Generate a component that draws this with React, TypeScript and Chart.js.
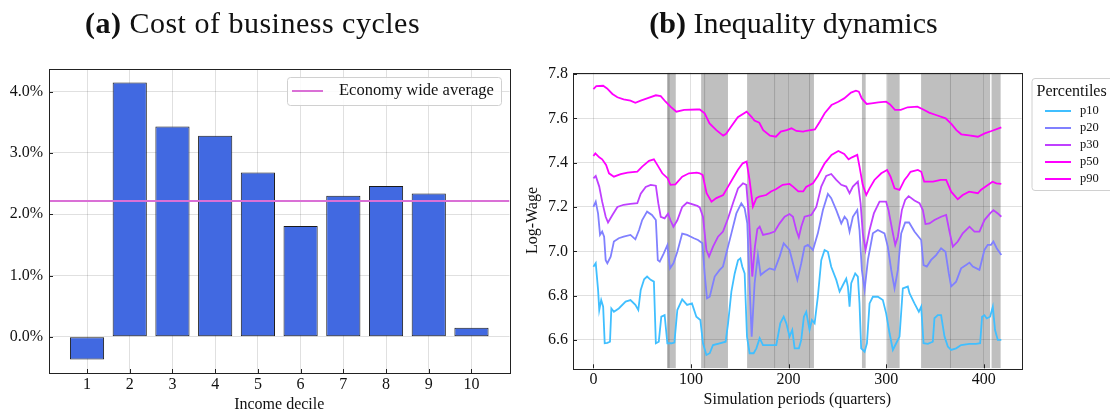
import React, { useEffect, useRef } from 'react';
import { Chart, registerables } from 'chart.js';

Chart.register(...registerables);

// ---------- Panel (a): cost of business cycles ----------
const DECILES = [1, 2, 3, 4, 5, 6, 7, 8, 9, 10];
const COST = [-0.37, 4.15, 3.43, 3.28, 2.68, 1.81, 2.30, 2.46, 2.34, 0.15];
const ECONOMY_AVERAGE = 2.215;
const COST_TICKS = [0, 1, 2, 3, 4];
const DECILE_RANGE = [0.11, 10.89];
const COST_RANGE = [-0.59, 4.37];

// ---------- Panel (b): inequality dynamics ----------
const QUARTER_TICKS = [0, 100, 200, 300, 400];
const WAGE_TICKS = [6.6, 6.8, 7.0, 7.2, 7.4, 7.6, 7.8];
const QUARTER_RANGE = [-20.9, 438.9];
const WAGE_RANGE = [6.472, 7.806];
const RECESSIONS: [number, number][] = [
  [75.8, 84.4], [75.8, 78.2],
  [110.4, 114.5], [113.5, 137.9],
  [157.5, 186.2], [185.2, 222], [221, 226],
  [275.2, 279],
  [301, 313.8],
  [335.8, 366.4], [365.4, 406.5], [408, 417.3],
];

const P90: [number, number][] = [
  [0, 7.732], [3, 7.745], [10, 7.747], [14, 7.735], [19.5, 7.71], [24.6, 7.695], [31, 7.686], [38, 7.68],
  [43, 7.67], [48.5, 7.68], [55, 7.69], [64, 7.704], [69, 7.7], [74, 7.675], [79, 7.653], [85, 7.63],
  [93, 7.638], [106, 7.64], [109, 7.64], [114, 7.623], [119, 7.577], [126, 7.547], [133, 7.522], [136, 7.53],
  [141, 7.562], [148, 7.605], [157, 7.63], [162, 7.607], [165, 7.59], [170, 7.58], [174, 7.547], [181, 7.522],
  [187, 7.517], [192, 7.54], [198, 7.547], [203, 7.555], [208, 7.543], [215, 7.54], [218, 7.544], [227, 7.55],
  [232, 7.585], [237, 7.623], [244, 7.66], [251, 7.675], [257, 7.69], [264, 7.716], [269, 7.725], [272, 7.72],
  [275, 7.69], [280, 7.665], [285, 7.668], [292, 7.672], [300, 7.675], [304, 7.663], [309, 7.638], [315, 7.638],
  [322, 7.65], [332, 7.653], [338, 7.64], [344, 7.626], [351, 7.615], [361, 7.6], [367, 7.574], [372, 7.547],
  [377, 7.528], [385, 7.523], [394, 7.517], [401, 7.532], [408, 7.543], [418, 7.559],
];

const P50: [number, number][] = [
  [0, 7.43], [2, 7.442], [6, 7.424], [9, 7.415], [13, 7.39], [16, 7.352], [21, 7.337], [28, 7.348],
  [35, 7.355], [45, 7.36], [50, 7.382], [57, 7.408], [62, 7.415], [65.5, 7.39], [70.6, 7.352], [76, 7.33],
  [79, 7.3], [84, 7.302], [91, 7.337], [98, 7.352], [106, 7.355], [109, 7.352], [112, 7.344], [116, 7.262],
  [121, 7.224], [126, 7.24], [133, 7.254], [138, 7.292], [143, 7.33], [148, 7.367], [153, 7.397], [157, 7.405],
  [160, 7.322], [163.5, 7.202], [167, 7.24], [170, 7.247], [177, 7.254], [182, 7.27], [187, 7.28], [194, 7.3],
  [201, 7.304], [204.5, 7.292], [210, 7.27], [215, 7.27], [218, 7.29], [225, 7.307], [230, 7.34], [237, 7.397],
  [244, 7.435], [251, 7.453], [257, 7.439], [261.5, 7.415], [265, 7.424], [270.4, 7.435], [272.7, 7.382], [276, 7.3],
  [279.6, 7.254], [283, 7.284], [288, 7.322], [295, 7.352], [301, 7.367], [304.5, 7.337], [308.6, 7.284], [313.7, 7.277],
  [318.8, 7.322], [322, 7.34], [325, 7.359], [332.5, 7.367], [336, 7.359], [339, 7.314], [348, 7.314], [356, 7.322],
  [361.5, 7.322], [366.6, 7.269], [373.4, 7.235], [378.5, 7.254], [385, 7.269], [394, 7.262], [397, 7.277], [402, 7.292],
  [409, 7.314], [413, 7.307], [418, 7.304],
];

const P30: [number, number][] = [
  [0, 7.329], [2.4, 7.34], [6, 7.292], [9, 7.224], [12.6, 7.156], [15, 7.13], [19.5, 7.164], [24.6, 7.2],
  [31, 7.21], [38, 7.214], [45, 7.217], [48.5, 7.26], [53.6, 7.29], [58.7, 7.3], [64, 7.296], [66.5, 7.217],
  [69, 7.156], [73, 7.149], [76.5, 7.17], [79, 7.14], [82, 7.111], [86, 7.14], [91, 7.2], [96, 7.22],
  [106.5, 7.205], [109, 7.198], [112.3, 7.156], [115.8, 7.006], [118.5, 6.976], [122.6, 7.021], [127.7, 7.066], [132.8, 7.089],
  [138, 7.149], [143, 7.217], [148.2, 7.284], [153.3, 7.307], [156.7, 7.3], [159.4, 7.156], [162.8, 6.886], [165.5, 7.02],
  [168, 7.1], [170.4, 7.111], [173.8, 7.074], [180.6, 7.081], [185.7, 7.089], [190.8, 7.126], [196, 7.156], [201, 7.168],
  [204.5, 7.156], [207.9, 7.096], [210.5, 7.063], [213, 7.111], [216.4, 7.156], [223.3, 7.164], [228.4, 7.2], [233.5, 7.292],
  [238.6, 7.34], [243.7, 7.349], [248.9, 7.322], [254, 7.3], [259.1, 7.292], [262.5, 7.262], [265.9, 7.292], [271, 7.314],
  [273.8, 7.217], [276.1, 7.081], [278.9, 7.006], [283, 7.096], [287.4, 7.171], [293.2, 7.224], [300, 7.224], [302.4, 7.186],
  [306.9, 7.081], [309.3, 7.029], [312, 7.066], [316.1, 7.186], [319.5, 7.232], [323, 7.249], [329, 7.229], [334.2, 7.217],
  [337.6, 7.186], [340.3, 7.123], [344.4, 7.126], [349.5, 7.141], [356.3, 7.156], [361.5, 7.164], [364.9, 7.089], [368.3, 7.021],
  [373.4, 7.044], [378.5, 7.081], [385.4, 7.111], [390.5, 7.089], [395.6, 7.089], [400.7, 7.141], [406.5, 7.171], [409.9, 7.186],
  [414.4, 7.171], [418, 7.156],
];

const P20: [number, number][] = [
  [0, 7.2], [2.4, 7.224], [4.8, 7.17], [6.8, 7.074], [9, 7.089], [11, 7.066], [12.6, 6.96], [14.3, 6.946],
  [17.7, 6.976], [21, 7.044], [26, 7.059], [31, 7.066], [38, 7.074], [43, 7.054], [46.8, 7.096], [50, 7.141],
  [55, 7.179], [60, 7.164], [64, 7.141], [66, 6.96], [68, 6.953], [72, 6.99], [75.8, 7.028], [78.5, 6.923],
  [82, 6.946], [86, 6.998], [91, 7.08], [96, 7.074], [103, 7.059], [107.2, 7.051], [111.7, 7.036], [114, 6.9],
  [116.4, 6.788], [119.2, 6.795], [124.3, 6.886], [129.4, 6.916], [132.8, 6.931], [136.2, 6.991], [141.4, 7.081], [146.5, 7.171],
  [151.6, 7.217], [155, 7.194], [157.7, 7.126], [160.1, 6.841], [162.2, 6.615], [165.2, 6.856], [168.6, 6.983], [171.4, 6.893],
  [175.5, 6.908], [180.6, 6.923], [185.7, 6.916], [190.8, 6.976], [195, 7.036], [201, 7.006], [204.5, 6.946], [209, 6.871],
  [213, 6.946], [216.4, 7.021], [219.8, 7.029], [225, 7.006], [230, 7.081], [235.2, 7.186], [240.3, 7.259], [243.7, 7.24],
  [248.9, 7.186], [254, 7.126], [257.4, 7.156], [260.1, 7.141], [262.5, 7.089], [265.9, 7.156], [270.4, 7.186], [272.7, 7.096],
  [275.1, 6.916], [277.9, 6.826], [281.3, 6.961], [286.4, 7.081], [291.5, 7.096], [298.3, 7.081], [301.7, 7.021], [305.2, 6.916],
  [308.6, 6.833], [312, 6.916], [315.4, 7.081], [319.5, 7.13], [323.5, 7.13], [329, 7.089], [335.9, 7.051], [338.3, 6.938],
  [341.7, 6.931], [346.1, 6.961], [351.2, 6.983], [356.3, 7.014], [360.8, 6.998], [364.2, 6.9], [366.6, 6.841], [371.7, 6.863],
  [376.8, 6.923], [381.9, 6.938], [385.4, 6.949], [388.8, 6.931], [395.6, 6.916], [400.7, 7.006], [404.1, 7.029], [407.5, 7.029],
  [409.9, 7.044], [413.3, 7.014], [418, 6.983],
];

const P10: [number, number][] = [
  [0, 6.93], [2.4, 6.946], [4.8, 6.826], [6, 6.735], [8, 6.78], [10, 6.75], [11.6, 6.585], [14.3, 6.587],
  [17, 6.592], [18.4, 6.742], [21, 6.727], [26, 6.742], [33, 6.773], [38, 6.78], [43, 6.758], [46, 6.735],
  [48.5, 6.826], [52, 6.874], [55, 6.886], [58.7, 6.871], [62, 6.863], [64, 6.585], [67, 6.592], [69.6, 6.705],
  [73, 6.712], [75.8, 6.585], [80, 6.585], [83, 6.588], [86, 6.735], [91, 6.783], [96, 6.758], [101, 6.765],
  [105.5, 6.705], [109.6, 6.69], [112.3, 6.585], [115.8, 6.532], [119.2, 6.54], [122.6, 6.577], [129.4, 6.585], [135.5, 6.592],
  [138, 6.675], [141.4, 6.818], [144.8, 6.9], [148.2, 6.96], [150.6, 6.968], [152.6, 6.93], [155, 6.9], [157.4, 6.615],
  [160.1, 6.54], [164.2, 6.54], [167, 6.562], [170.4, 6.608], [173.8, 6.577], [180.6, 6.577], [187.4, 6.577], [191.5, 6.675],
  [195, 6.705], [197.7, 6.675], [201, 6.615], [203.8, 6.645], [206.2, 6.562], [210.6, 6.562], [213, 6.6], [215.7, 6.705],
  [218.1, 6.727], [221.5, 6.645], [223.9, 6.69], [226.7, 6.675], [230, 6.795], [233.5, 6.96], [236.9, 7.006], [240.3, 6.998],
  [243.7, 6.93], [248.9, 6.871], [252.3, 6.818], [255.7, 6.848], [259.1, 6.877], [260.8, 6.841], [262.5, 6.75], [264.2, 6.856],
  [268.3, 6.9], [271, 6.886], [272.7, 6.765], [274.4, 6.562], [277.9, 6.547], [280.3, 6.585], [283, 6.765], [286.4, 6.795],
  [291.5, 6.795], [296.6, 6.78], [300, 6.72], [303.5, 6.63], [306.9, 6.555], [310.3, 6.585], [313.7, 6.615], [317.1, 6.833],
  [322.2, 6.841], [323.9, 6.811], [329, 6.765], [333.5, 6.727], [335.9, 6.75], [338.3, 6.585], [342.7, 6.582], [347.8, 6.592],
  [349.5, 6.698], [352.9, 6.712], [356.3, 6.712], [359.8, 6.615], [363.2, 6.57], [366.6, 6.555], [371.7, 6.562], [376.8, 6.577],
  [385.4, 6.582], [392.2, 6.582], [396.3, 6.585], [398.3, 6.705], [400.7, 6.712], [403.1, 6.697], [406.5, 6.705], [409.3, 6.75],
  [411.6, 6.645], [414.4, 6.6], [418, 6.6],
];

const PERCENTILE_LABELS = ['p10', 'p20', 'p30', 'p50', 'p90'];
const PERCENTILE_SERIES = [P10, P20, P30, P50, P90];
const PERCENTILE_COLORS = ['#40bfff', '#8080ff', '#bf40ff', '#ff00ff', '#ff00ff'];

const SERIF = "'Liberation Serif', 'Times New Roman', serif";
const GRID = 'rgba(0,0,0,0.12)';
const INK = '#111';

// frame (all four spines) + inward ticks
const framePlugin = {
  id: 'frame',
  afterDraw(chart: any) {
    const { ctx, chartArea: a, scales } = chart;
    ctx.save();
    ctx.strokeStyle = '#222';
    ctx.lineWidth = 1;
    ctx.strokeRect(Math.round(a.left) + 0.5, Math.round(a.top) + 0.5, Math.round(a.right - a.left), Math.round(a.bottom - a.top));
    ctx.beginPath();
    for (const t of scales.x.ticks) {
      const px = Math.round(scales.x.getPixelForValue(t.value)) + 0.5;
      ctx.moveTo(px, a.bottom);
      ctx.lineTo(px, a.bottom - 4);
    }
    for (const t of scales.y.ticks) {
      const py = Math.round(scales.y.getPixelForValue(t.value)) + 0.5;
      ctx.moveTo(a.left, py);
      ctx.lineTo(a.left + 4, py);
    }
    ctx.stroke();
    ctx.restore();
  },
};

// shaded recession periods, drawn before the grid
const spanPlugin = {
  id: 'spans',
  beforeDraw(chart: any, _args: any, opts: any) {
    if (!opts || !opts.spans) return;
    const { ctx, chartArea: a, scales } = chart;
    ctx.save();
    ctx.beginPath();
    ctx.rect(a.left, a.top, a.right - a.left, a.bottom - a.top);
    ctx.clip();
    ctx.fillStyle = 'rgba(128,128,128,0.5)';
    for (const [s, e] of opts.spans) {
      const x0 = scales.x.getPixelForValue(s);
      const x1 = scales.x.getPixelForValue(e);
      ctx.fillRect(x0, a.top, x1 - x0, a.bottom - a.top);
    }
    ctx.restore();
  },
};

// boxed legend drawn from the datasets
const boxLegendPlugin = {
  id: 'boxLegend',
  afterDraw(chart: any, _args: any, o: any) {
    if (!o || !o.box) return;
    const ctx = chart.ctx;
    ctx.save();
    const { x, y, w, h } = o.box;
    ctx.beginPath();
    ctx.roundRect(x + 0.5, y + 0.5, w, h, 3);
    ctx.fillStyle = 'rgba(255,255,255,0.85)';
    ctx.fill();
    ctx.strokeStyle = '#d0d0d0';
    ctx.lineWidth = 1;
    ctx.stroke();
    ctx.textAlign = 'left';
    ctx.textBaseline = 'middle';
    ctx.fillStyle = INK;
    if (o.title) {
      ctx.font = `${o.titleSize}px ${SERIF}`;
      ctx.fillText(o.title, o.titleX, o.titleY);
    }
    ctx.font = `${o.fontSize}px ${SERIF}`;
    o.datasets.forEach((di: number, k: number) => {
      const ds = chart.data.datasets[di];
      const yy = o.itemY + k * o.itemStep;
      ctx.strokeStyle = ds.borderColor;
      ctx.lineWidth = o.lineWidth;
      ctx.beginPath();
      ctx.moveTo(o.lineX0, yy);
      ctx.lineTo(o.lineX1, yy);
      ctx.stroke();
      ctx.fillStyle = INK;
      ctx.fillText(ds.label, o.textX, yy);
    });
    ctx.restore();
  },
};

function fixedTicks(values: number[]) {
  return (axis: any) => {
    axis.ticks = values.map((v) => ({ value: v }));
  };
}

export default function App() {
  const refA = useRef<HTMLCanvasElement>(null);
  const refB = useRef<HTMLCanvasElement>(null);

  useEffect(() => {
    document.body.style.margin = '0';
    const tickFont = { family: SERIF, size: 16 };

    const chartA = new Chart(refA.current as HTMLCanvasElement, {
      type: 'bar',
      data: {
        datasets: [
          {
            type: 'bar',
            label: 'Cost of business cycles',
            data: DECILES.map((d, i) => ({ x: d, y: COST[i] })),
            backgroundColor: '#4169e1',
            borderColor: '#1a1a1a',
            borderWidth: 1,
            borderSkipped: false,
            barPercentage: 0.8,
            categoryPercentage: 1,
            order: 2,
          } as any,
          {
            type: 'line',
            label: 'Economy wide average',
            data: DECILE_RANGE.map((d) => ({ x: d, y: ECONOMY_AVERAGE })),
            borderColor: '#da70d6',
            borderWidth: 2,
            pointRadius: 0,
            order: 1,
          } as any,
        ],
      },
      options: {
        responsive: false,
        animation: false,
        devicePixelRatio: 1,
        layout: { padding: { left: 0, top: 69, right: 10.5, bottom: 0 } },
        plugins: {
          legend: { display: false },
          tooltip: { enabled: false },
          boxLegend: {
            box: { x: 287, y: 77, w: 214, h: 28 },
            datasets: [1],
            fontSize: 16.5,
            itemY: 91,
            itemStep: 0,
            lineX0: 292,
            lineX1: 323,
            textX: 339,
            lineWidth: 2,
          },
        } as any,
        scales: {
          x: {
            type: 'linear',
            min: DECILE_RANGE[0],
            max: DECILE_RANGE[1],
            offset: false,
            afterBuildTicks: fixedTicks(DECILES),
            afterFit: (s: any) => { s.height = 42; },
            grid: { color: GRID, drawTicks: false, offset: false },
            border: { display: false },
            ticks: { padding: 2, font: tickFont, color: INK, callback: (v: any) => String(v) },
            title: { display: true, text: 'Income decile', font: tickFont, color: INK, padding: { top: 0, bottom: 1 } },
          },
          y: {
            type: 'linear',
            min: COST_RANGE[0],
            max: COST_RANGE[1],
            afterBuildTicks: fixedTicks(COST_TICKS),
            afterFit: (s: any) => { s.width = 49; },
            grid: { color: GRID, drawTicks: false },
            border: { display: false },
            ticks: { padding: 6, font: tickFont, color: INK, callback: (v: any) => Number(v).toFixed(1) + '%' },
          },
        } as any,
      },
      plugins: [framePlugin, boxLegendPlugin],
    });

    const chartB = new Chart(refB.current as HTMLCanvasElement, {
      type: 'line',
      data: {
        datasets: PERCENTILE_SERIES.map((s, i) => ({
          label: PERCENTILE_LABELS[i],
          data: s.map(([q, w]) => ({ x: q, y: w })),
          borderColor: PERCENTILE_COLORS[i],
          backgroundColor: PERCENTILE_COLORS[i],
          borderWidth: 1.8,
          pointRadius: 0,
          tension: 0,
          fill: false,
        })),
      },
      options: {
        responsive: false,
        animation: false,
        devicePixelRatio: 1,
        layout: { padding: { left: 0, top: 72.7, right: 88.3, bottom: 0 } },
        plugins: {
          legend: { display: false },
          tooltip: { enabled: false },
          spans: { spans: RECESSIONS },
          boxLegend: {
            box: { x: 511.5, y: 78, w: 120, h: 112 },
            title: 'Percentiles',
            titleSize: 16,
            titleX: 516.5,
            titleY: 92,
            datasets: [0, 1, 2, 3, 4],
            fontSize: 12.5,
            itemY: 111,
            itemStep: 17,
            lineX0: 525,
            lineX1: 551,
            textX: 560,
            lineWidth: 2,
          },
        } as any,
        scales: {
          x: {
            type: 'linear',
            min: QUARTER_RANGE[0],
            max: QUARTER_RANGE[1],
            afterBuildTicks: fixedTicks(QUARTER_TICKS),
            afterFit: (s: any) => { s.height = 46.7; },
            grid: { color: GRID, drawTicks: false },
            border: { display: false },
            ticks: { padding: 2, font: tickFont, color: INK, callback: (v: any) => String(v) },
            title: { display: true, text: 'Simulation periods (quarters)', font: tickFont, color: INK, padding: { top: 0, bottom: 6 } },
          },
          y: {
            type: 'linear',
            min: WAGE_RANGE[0],
            max: WAGE_RANGE[1],
            afterBuildTicks: fixedTicks(WAGE_TICKS),
            afterFit: (s: any) => { s.width = 53; },
            grid: { color: GRID, drawTicks: false },
            border: { display: false },
            ticks: { padding: 5, font: tickFont, color: INK, callback: (v: any) => Number(v).toFixed(1) },
            title: { display: true, text: 'Log-Wage', font: tickFont, color: INK, padding: { top: 3.4, bottom: 0 } },
          },
        } as any,
      },
      plugins: [spanPlugin, framePlugin, boxLegendPlugin],
    });

    return () => {
      chartA.destroy();
      chartB.destroy();
    };
  }, []);

  const titleStyle = (center: number, spacing: number): React.CSSProperties => ({
    position: 'absolute',
    left: center - 300,
    width: 600,
    top: 8,
    textAlign: 'center',
    fontFamily: SERIF,
    fontSize: 30,
    lineHeight: '30px',
    letterSpacing: spacing,
    color: '#111',
    whiteSpace: 'nowrap',
  });

  return (
    <div style={{ position: 'relative', width: 1110, height: 415, background: '#fff', overflow: 'hidden' }}>
      <canvas ref={refA} width={520} height={415} style={{ position: 'absolute', left: 0, top: 0 }} />
      <canvas ref={refB} width={590} height={415} style={{ position: 'absolute', left: 520, top: 0 }} />
      <div style={titleStyle(252.5, 0.5)}>
        <span style={{ fontWeight: 700 }}>(a)</span> Cost of business cycles
      </div>
      <div style={titleStyle(793.5, 0)}>
        <span style={{ fontWeight: 700 }}>(b)</span> Inequality dynamics
      </div>
    </div>
  );
}
